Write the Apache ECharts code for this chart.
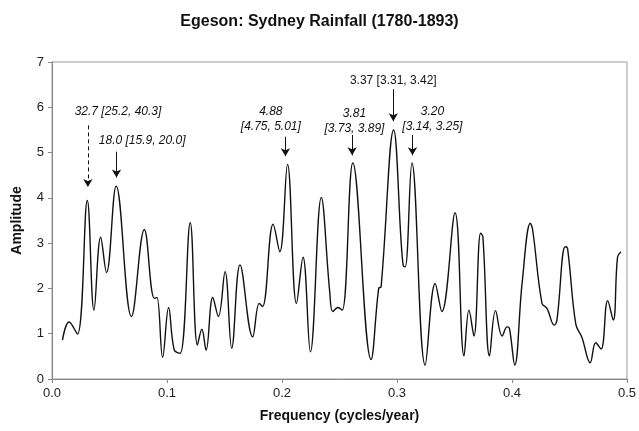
<!DOCTYPE html>
<html>
<head>
<meta charset="utf-8">
<script src="https://cdn.jsdelivr.net/npm/echarts@6/dist/echarts.min.js"></script>
<style>
    html, body { margin: 0; padding: 0; background: #fff; }
    #chart { width: 639px; height: 431px; }
</style>
</head>
<body>
<div id="chart"></div>
<script>
// spectrum
var freq = [0.0091, 0.0148, 0.0221, 0.0307, 0.0365, 0.0423, 0.0474, 0.0558, 0.0691, 0.0803,
    0.0890, 0.0913, 0.0962, 0.1014, 0.1063, 0.1115, 0.1202, 0.1265, 0.1303, 0.1340,
    0.1398, 0.1447, 0.1505, 0.1563, 0.1635, 0.1745, 0.1802, 0.1831, 0.1923, 0.1981,
    0.2048, 0.2126, 0.2183, 0.2247, 0.2342, 0.2414, 0.2442, 0.2486, 0.2524, 0.2616,
    0.2775, 0.2841, 0.2862, 0.2971, 0.3055, 0.3072, 0.3130, 0.3245, 0.3332, 0.3390,
    0.3505, 0.3583, 0.3626, 0.3669, 0.3727, 0.3747, 0.3805, 0.3857, 0.3914, 0.3958,
    0.3978, 0.4024, 0.4088, 0.4160, 0.4180, 0.4261, 0.4304, 0.4368, 0.4391, 0.4463,
    0.4483, 0.4555, 0.4607, 0.4680, 0.4728, 0.4775, 0.4832, 0.4881, 0.4918, 0.4948];
var amplitude = [0.86, 1.26, 0.99, 3.94, 1.52, 3.13, 2.35, 4.26, 1.38, 3.30,
    1.78, 1.80, 0.48, 1.58, 0.64, 0.57, 3.45, 0.75, 1.10, 0.64,
    1.80, 1.38, 2.37, 0.68, 2.52, 0.93, 1.67, 1.60, 3.42, 2.81,
    4.74, 1.67, 2.69, 0.60, 4.01, 1.96, 1.49, 1.58, 1.52, 4.77,
    0.43, 2.00, 2.04, 5.50, 2.49, 2.48, 4.77, 0.31, 2.11, 1.49,
    3.67, 0.51, 1.52, 0.95, 3.22, 3.14, 0.51, 1.51, 0.95, 1.15,
    1.12, 0.31, 2.11, 3.44, 3.29, 1.67, 1.56, 1.19, 1.30, 2.92,
    2.89, 1.21, 0.93, 0.36, 0.80, 0.66, 1.73, 1.30, 2.69, 2.81];

var xTicks = [0, 0.1, 0.2, 0.3, 0.4, 0.5];

// period annotations (years) and where their arrows point
var noteText = ['32.7 [25.2, 40.3]', '18.0 [15.9, 20.0]', '4.88\n[4.75, 5.01]',
    '3.81\n[3.73, 3.89]', '3.37 [3.31, 3.42]', '3.20\n[3.14, 3.25]'];
var noteX = [0.0574, 0.0784, 0.1903, 0.2630, 0.2968, 0.3308];
var noteY = [5.90, 5.26, 5.74, 5.70, 6.58, 5.74];
var noteItalic = [true, true, true, true, false, true];
var arrowX = [0.0312, 0.0561, 0.2030, 0.2610, 0.2968, 0.3135];
var arrowTop = [5.60, 5.02, 5.35, 5.39, 6.40, 5.39];
var arrowTip = [4.24, 4.45, 4.92, 4.94, 5.69, 4.94];
var arrowDashed = [true, false, false, false, false, false];

var chart = echarts.init(document.getElementById('chart'));

var series = freq.map(function(f, i) { return [f, amplitude[i]]; });

var arrows = arrowX.map(function(x, i) {
    return [
        { coord: [x, arrowTop[i]], lineStyle: { type: arrowDashed[i] ? [4, 3] : 'solid' } },
        { coord: [x, arrowTip[i]] }
    ];
});

var notes = noteText.map(function(t, i) {
    return {
        coord: [noteX[i], noteY[i]],
        value: t,
        label: { fontStyle: noteItalic[i] ? 'italic' : 'normal' }
    };
});

var option = {
    animation: false,
    backgroundColor: '#fff',
    textStyle: { fontFamily: 'Liberation Sans, Arial, sans-serif' },
    title: {
        text: 'Egeson: Sydney Rainfall (1780-1893)',
        left: 'center',
        top: 9,
        textStyle: { fontSize: 16, fontWeight: 'bold', color: '#111' }
    },
    grid: {
        left: 52, right: 10, top: 62, bottom: 52,
        show: true, borderColor: '#999', borderWidth: 1
    },
    xAxis: {
        type: 'value',
        min: 0, max: 0.5, interval: 0.1,
        name: 'Frequency (cycles/year)',
        nameLocation: 'middle',
        nameGap: 30,
        nameTextStyle: { fontSize: 14, fontWeight: 'bold', color: '#111' },
        axisLine: { lineStyle: { color: '#888' } },
        axisTick: { inside: false, length: 4, lineStyle: { color: '#888' } },
        axisLabel: {
            color: '#222', fontSize: 13, margin: 8,
            formatter: function(v) { return xTicks.indexOf(+v.toFixed(1)) >= 0 ? v.toFixed(1) : ''; }
        },
        splitLine: { show: false }
    },
    yAxis: {
        type: 'value',
        min: 0, max: 7, interval: 1,
        name: 'Amplitude',
        nameLocation: 'middle',
        nameGap: 28,
        nameTextStyle: { fontSize: 14, fontWeight: 'bold', color: '#111' },
        axisLine: { show: true, lineStyle: { color: '#888' } },
        axisTick: { show: true, length: 4, lineStyle: { color: '#888' } },
        axisLabel: { color: '#222', fontSize: 13, margin: 8 },
        splitLine: { show: false }
    },
    series: [
        {
            type: 'line',
            data: series,
            smooth: 0.4,
            symbol: 'none',
            lineStyle: { color: '#111', width: 1.4 },
            markLine: {
                silent: true,
                symbol: ['none', 'arrow'],
                symbolSize: [7, 8],
                label: { show: false },
                lineStyle: { color: '#111', width: 1 },
                data: arrows
            },
            markPoint: {
                silent: true,
                symbol: 'circle',
                symbolSize: 0,
                label: {
                    show: true,
                    position: 'inside',
                    color: '#111',
                    fontSize: 12,
                    lineHeight: 15,
                    formatter: function(p) { return p.value; }
                },
                data: notes
            }
        }
    ]
};

chart.setOption(option);
</script>
</body>
</html>
